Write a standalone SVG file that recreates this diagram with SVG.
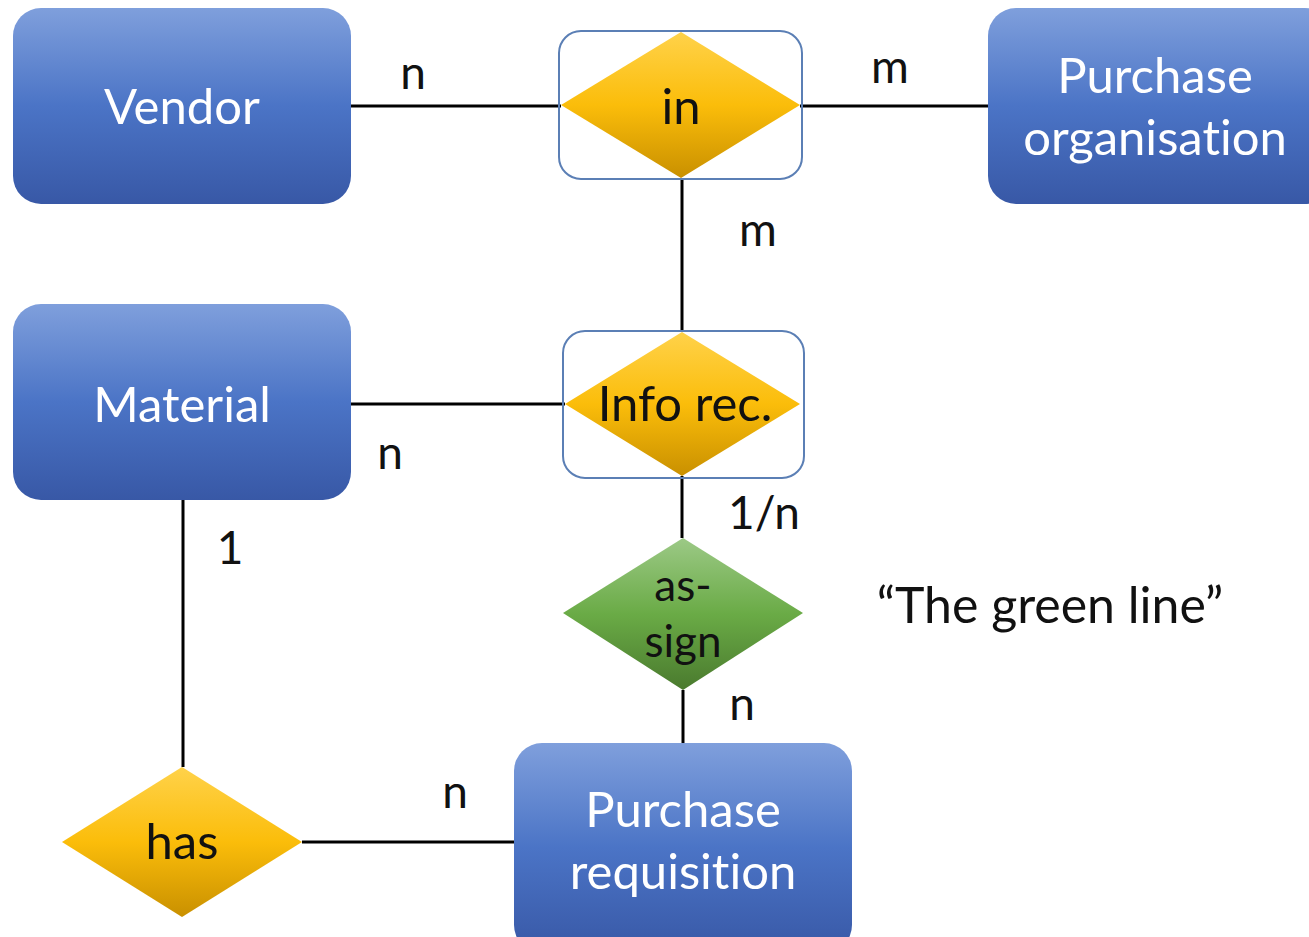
<svg xmlns="http://www.w3.org/2000/svg" width="1309" height="937" viewBox="0 0 1309 937">
<defs>
<linearGradient id="gBlue" x1="0" y1="0" x2="0" y2="1">
<stop offset="0" stop-color="#7f9fdc"/>
<stop offset="0.5" stop-color="#4b74c6"/>
<stop offset="1" stop-color="#3858a6"/>
</linearGradient>
<linearGradient id="gYel" x1="0" y1="0" x2="0" y2="1">
<stop offset="0" stop-color="#ffd24a"/>
<stop offset="0.5" stop-color="#fbbd0a"/>
<stop offset="1" stop-color="#c99000"/>
</linearGradient>
<linearGradient id="gGrn" x1="0" y1="0" x2="0" y2="1">
<stop offset="0" stop-color="#9cc986"/>
<stop offset="0.5" stop-color="#6aab46"/>
<stop offset="1" stop-color="#4a7a2e"/>
</linearGradient>
</defs>
<style>
text{font-variant-ligatures:none;font-feature-settings:"liga" 0;}
.ent{fill:url(#gBlue);}
.rel{fill:url(#gYel);}
.grn{fill:url(#gGrn);}
.frame{fill:none;stroke:#5b7fb5;stroke-width:2;}
.et{font-family:Lato,"Open Sans",sans-serif;font-size:49px;fill:#ffffff;text-anchor:middle;}
.rt{font-family:Lato,"Open Sans",sans-serif;font-size:49px;fill:#111111;text-anchor:middle;}
.lbl{font-family:Lato,"Open Sans",sans-serif;font-size:46px;fill:#111111;text-anchor:middle;}
.conn line{stroke:#000;stroke-width:3;}
</style>
<rect width="1309" height="937" fill="#ffffff"/>
<g class="conn" id="connectors">
<line x1="351" y1="106" x2="561" y2="106"/>
<line x1="800" y1="106" x2="988" y2="106"/>
<line x1="682" y1="178" x2="682" y2="332"/>
<line x1="351" y1="404" x2="565" y2="404"/>
<line x1="682" y1="476" x2="682" y2="538"/>
<line x1="683" y1="690" x2="683" y2="743"/>
<line x1="183" y1="500" x2="183" y2="767"/>
<line x1="302" y1="842" x2="514" y2="842"/>
</g>
<g id="vendor">
<rect class="ent" x="13" y="8" width="338" height="196" rx="28"/>
<text class="et" x="182" y="124">Vendor</text>
</g>
<g id="purchase-organisation">
<rect class="ent" x="988" y="8" width="345" height="196" rx="28"/>
<text class="et" x="1155" y="93">Purchase</text>
<text class="et" x="1155" y="155">organisation</text>
</g>
<g id="material">
<rect class="ent" x="13" y="304" width="338" height="196" rx="28"/>
<text class="et" x="182" y="422">Material</text>
</g>
<g id="purchase-requisition">
<rect class="ent" x="514" y="743" width="338" height="210" rx="28"/>
<text class="et" x="683" y="827">Purchase</text>
<text class="et" x="683" y="889">requisition</text>
</g>
<g id="in">
<rect class="frame" x="559" y="31" width="243" height="148" rx="22"/>
<polygon class="rel" points="681,32 800,105 681,178 561,105"/>
<text class="rt" x="681" y="124">in</text>
</g>
<g id="info-rec">
<rect class="frame" x="563" y="331" width="241" height="147" rx="22"/>
<polygon class="rel" points="682,332 800,404 682,476 565,404"/>
<text class="rt" x="685" y="421">Info rec.</text>
</g>
<g id="assign">
<polygon class="grn" points="683,538 803,613 683,690 563,613"/>
<text class="rt" x="683" y="601" style="font-size:44px">as-</text>
<text class="rt" x="683" y="657" style="font-size:44px">sign</text>
</g>
<g id="has">
<polygon class="rel" points="182,767 302,842 182,917 62,842"/>
<text class="rt" x="182" y="859">has</text>
</g>
<g id="labels">
<text class="lbl" x="413" y="89">n</text>
<text class="lbl" x="890" y="83">m</text>
<text class="lbl" x="758" y="246">m</text>
<text class="lbl" x="390" y="469">n</text>
<text class="lbl" x="764" y="529">1/n</text>
<text class="lbl" x="230" y="564">1</text>
<text class="lbl" x="742" y="720">n</text>
<text class="lbl" x="455" y="808">n</text>
<text class="lbl" x="1050" y="623" style="font-size:50px">“The green line”</text>
</g>
</svg>
